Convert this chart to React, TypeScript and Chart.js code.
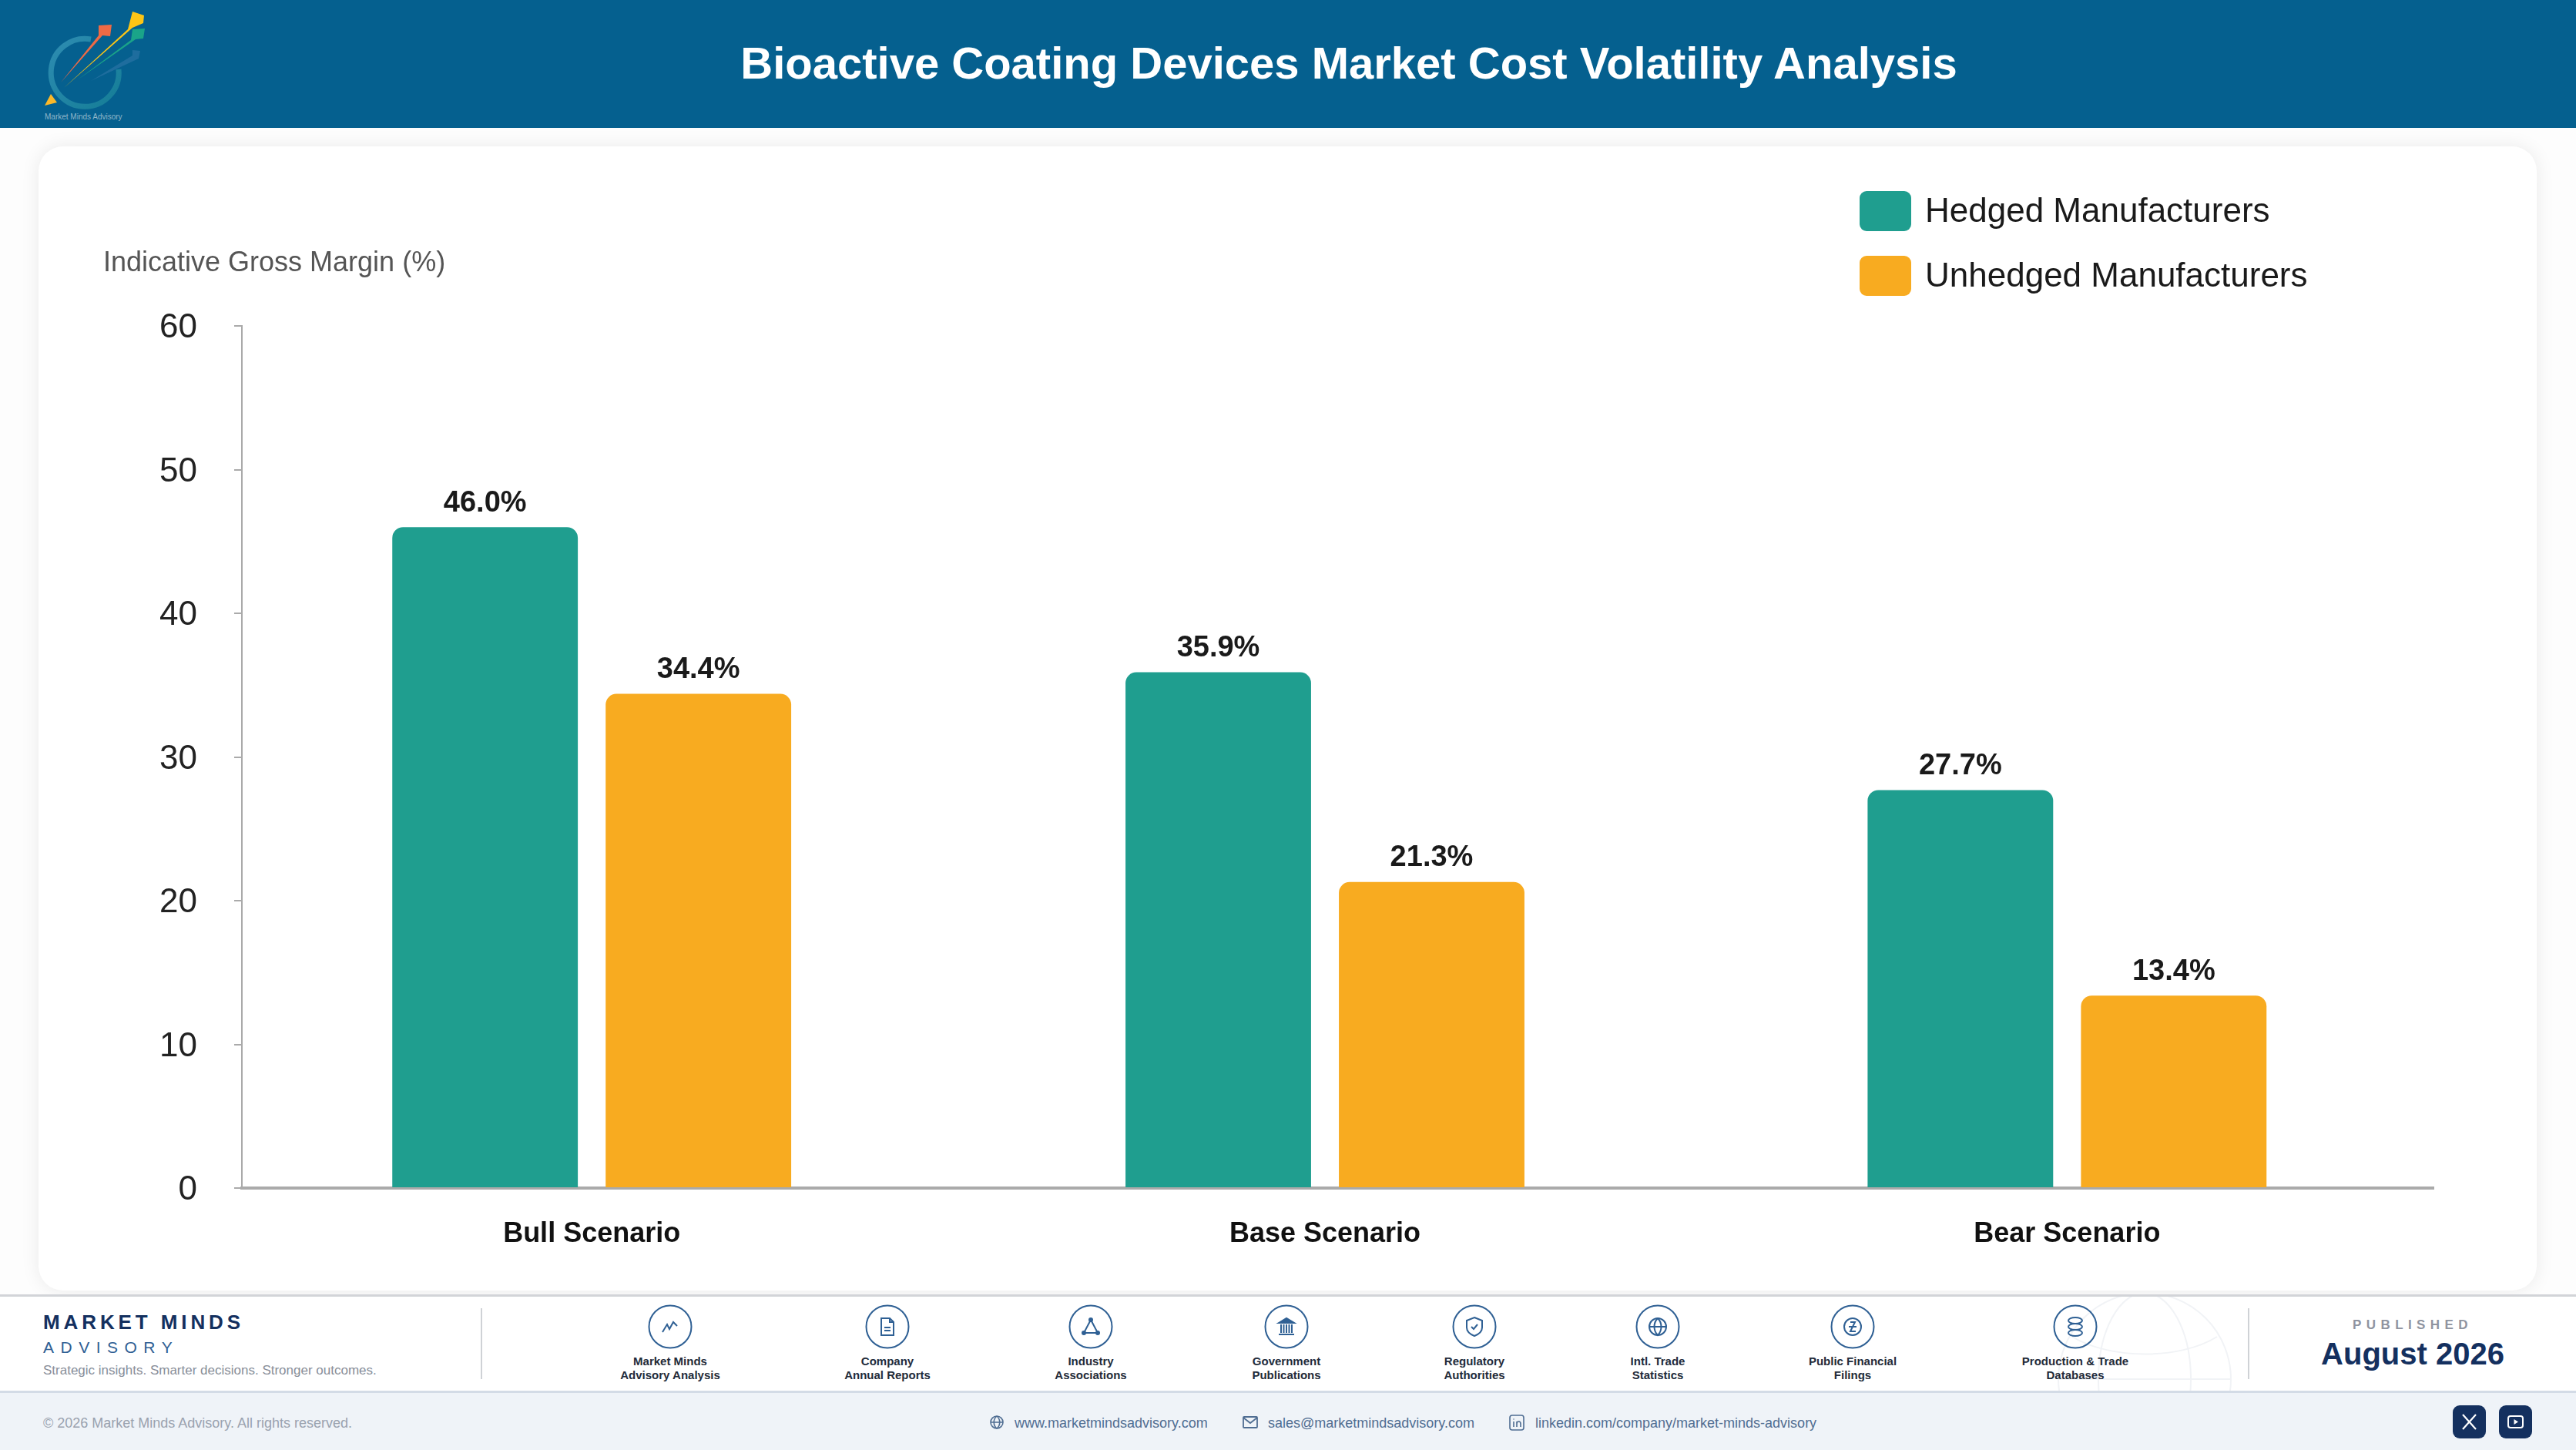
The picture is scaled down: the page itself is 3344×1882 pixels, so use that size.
import React, { useEffect, useRef } from 'react';
import { Chart, CategoryScale, registerables } from 'chart.js';

const scenarios = ['Bull Scenario', 'Base Scenario', 'Bear Scenario'];
const hedged = [46.0, 35.9, 27.7];
const unhedged = [34.4, 21.3, 13.4];
const yMax = 60;
const yStep = 10;

const sources = [
  ['Market Minds', 'Advisory Analysis'],
  ['Company', 'Annual Reports'],
  ['Industry', 'Associations'],
  ['Government', 'Publications'],
  ['Regulatory', 'Authorities'],
  ['Intl. Trade', 'Statistics'],
  ['Public Financial', 'Filings'],
  ['Production & Trade', 'Databases'],
];
const sourceCentres = [870, 1152, 1416, 1670, 1914, 2152, 2405, 2694];

const FONT = '"Liberation Sans", Arial, sans-serif';
const NAVY = '#14305f';
const BLUE = '#2f6094';

// the reference spaces its groups slightly unevenly, so the category scale is nudged
const groupNudge = [-20, -16.5, -1.5];

class ScenarioScale extends CategoryScale {
  static id = 'scenario';
  getPixelForValue(value: any) {
    return super.getPixelForValue(value) + (groupNudge[value] || 0);
  }
}

Chart.register(...registerables, ScenarioScale);

const barLabels = {
  id: 'barLabels',
  afterDatasetsDraw(chart: any) {
    const { ctx } = chart;
    ctx.save();
    ctx.font = `bold 38px ${FONT}`;
    ctx.fillStyle = '#1a1a1a';
    ctx.textAlign = 'center';
    ctx.textBaseline = 'middle';
    chart.data.datasets.forEach((ds: any, i: number) => {
      chart.getDatasetMeta(i).data.forEach((bar: any, j: number) => {
        ctx.fillText(`${ds.data[j].toFixed(1)}%`, bar.x, bar.y - 31);
      });
    });
    ctx.restore();
  },
};

// stacked legend in the card's top right corner
const cornerLegend = {
  id: 'cornerLegend',
  afterDraw(chart: any) {
    const { ctx } = chart;
    ctx.save();
    ctx.font = `44px ${FONT}`;
    ctx.textBaseline = 'middle';
    chart.data.datasets.forEach((ds: any, i: number) => {
      const top = 58 + i * 84;
      ctx.fillStyle = ds.backgroundColor;
      ctx.beginPath();
      ctx.roundRect(2364, top, 67, 52, 9);
      ctx.fill();
      ctx.fillStyle = '#1a1a1a';
      ctx.fillText(ds.label, 2449, top + 28);
    });
    ctx.restore();
  },
};

const BarChart: React.FC = () => {
  const ref = useRef<HTMLCanvasElement | null>(null);

  useEffect(() => {
    if (!ref.current) return;
    const corners = { topLeft: 14, topRight: 14, bottomLeft: 0, bottomRight: 0 };
    const chart = new Chart(ref.current, {
      type: 'bar',
      data: {
        labels: scenarios,
        datasets: [
          { label: 'Hedged Manufacturers', data: hedged, backgroundColor: '#1f9e8f', borderRadius: corners },
          { label: 'Unhedged Manufacturers', data: unhedged, backgroundColor: '#f8ab20', borderRadius: corners },
        ],
      },
      options: {
        animation: false,
        responsive: true,
        maintainAspectRatio: false,
        events: [],
        layout: { padding: { left: 84, right: 134, top: 0, bottom: 0 } },
        datasets: { bar: { categoryPercentage: 0.582, barPercentage: 0.8696 } },
        plugins: {
          tooltip: { enabled: false },
          legend: { display: false },
          title: {
            display: true,
            text: 'Indicative Gross Margin (%)',
            align: 'start',
            color: '#555555',
            font: { family: FONT, size: 36, weight: 'normal' },
            padding: { top: 130, bottom: 60 },
          },
        },
        scales: {
          x: {
            type: 'scenario' as any,
            afterFit: (s: any) => { s.height = 133; },
            border: { color: '#aaaaaa', width: 4 },
            grid: { display: false },
            ticks: {
              color: '#111111',
              padding: 30,
              maxRotation: 0,
              font: { family: FONT, size: 36, weight: 'bold' },
            },
          },
          y: {
            min: 0,
            max: yMax,
            afterFit: (s: any) => { s.width = 180; },
            border: { color: '#aaaaaa', width: 2 },
            grid: { drawOnChartArea: false, color: '#aaaaaa', lineWidth: 2, tickLength: 10 },
            ticks: {
              stepSize: yStep,
              color: '#222222',
              padding: 48,
              labelOffset: 3,
              font: { family: FONT, size: 44 },
            },
          },
        },
      },
      plugins: [barLabels, cornerLegend],
    });
    return () => chart.destroy();
  }, []);

  return <canvas ref={ref} />;
};

const box = (left: number, top: number, width: number, height: number): React.CSSProperties => ({
  position: 'absolute', left, top, width, height,
});

const Logo = () => (
  <svg style={box(50, 8, 150, 150)} viewBox="50 8 150 150">
    <defs>
      <linearGradient id="ring" x1="0" y1="0" x2="1" y2="1">
        <stop offset="0" stopColor="#3f9fc0" />
        <stop offset="1" stopColor="#1c8a9a" />
      </linearGradient>
    </defs>
    <path d="M118 51 A44 44 0 1 0 154 90" fill="none" stroke="url(#ring)" strokeWidth="7" opacity="0.7" />
    <polygon points="58,137 66,122 74,133" fill="#fbb829" />
    <polygon points="79,107 128,46 128,33 145,32 143,47 133,46" fill="#ee6a45" />
    <polygon points="83,114 166,38 172,15 187,20 186,30 172,36" fill="#fcc516" />
    <polygon points="100,104 170,52 172,38 188,37 186,50 176,51" fill="#1aa489" />
    <polygon points="118,105 172,72 172,65 182,66 180,76" fill="#2a73a4" opacity="0.7" />
    <text x="58" y="155" fontSize="10" fontFamily={FONT} fill="#8fb6c9">Market Minds Advisory</text>
  </svg>
);

const icons: React.ReactNode[] = [
  <path d="M-10 7 L-4 -3 L-1 3 L4 -6 L9 -1" />,
  <g><path d="M-8 -11 H3 L8 -6 V11 H-8 Z M3 -11 V-6 H8" /><path d="M-4 1 H4 M-4 5 H4" /></g>,
  <g><path d="M0 -9 L-9 8 H9 Z" /><circle cx="0" cy="-9" r="2" fill={BLUE} /><circle cx="-9" cy="8" r="2" fill={BLUE} /><circle cx="9" cy="8" r="2" fill={BLUE} /></g>,
  <g><path d="M-10 -5 L0 -11 L10 -5 Z" fill={BLUE} /><path d="M-7 -3 V8 M-3.5 -3 V8 M0 -3 V8 M3.5 -3 V8 M7 -3 V8 M-10 10 H10" /></g>,
  <g><path d="M0 -12 L10 -8 V1 C10 6 5 10 0 12 C-5 10 -10 6 -10 1 V-8 Z" /><path d="M-4 0 L-1 3 L4 -3" /></g>,
  <g><circle r="11" /><path d="M-11 0 H11 M0 -11 C-6 -5 -6 5 0 11 C6 5 6 -5 0 -11" /></g>,
  <g><circle r="11" /><path d="M-3 -6 H3 L-3 6 H4 M-5 0 H5" /></g>,
  <g><ellipse cx="0" cy="-8" rx="9" ry="4" /><ellipse cx="0" cy="0" rx="9" ry="4" /><ellipse cx="0" cy="8" rx="9" ry="4" /></g>,
];

const SourceItem: React.FC<{ lines: string[]; centre: number; icon: React.ReactNode }> = ({ lines, centre, icon }) => (
  <div>
    <svg style={box(centre - 29, 1693, 58, 58)} viewBox="-29 -29 58 58" fill="none" stroke={BLUE} strokeWidth="2">
      <circle r="27.5" />
      {icon}
    </svg>
    <div style={{ ...box(centre - 110, 1758, 220, 36), textAlign: 'center', fontSize: 15, lineHeight: '18px', fontWeight: 700, color: '#222b3a' }}>
      {lines.map((l) => <div key={l}>{l}</div>)}
    </div>
  </div>
);

const text = (left: number, centreY: number, size: number, color: string, extra: React.CSSProperties = {}): React.CSSProperties => ({
  position: 'absolute', left, top: centreY - size, lineHeight: `${size * 2}px`, fontSize: size, color, whiteSpace: 'nowrap', ...extra,
});

const App: React.FC = () => {
  useEffect(() => {
    document.body.style.margin = '0';
  }, []);

  return (
    <div style={{ position: 'relative', width: 3344, height: 1882, overflow: 'hidden', background: '#fdfdfd', fontFamily: FONT }}>
      <div style={{ ...box(0, 0, 3344, 166), background: '#05608f' }} />
      <Logo />
      <div style={{ ...box(0, 44, 3502, 76), textAlign: 'center', lineHeight: '76px', fontSize: 58, fontWeight: 700, color: '#fff' }}>
        Bioactive Coating Devices Market Cost Volatility Analysis
      </div>

      <div style={{ ...box(50, 190, 3243, 1485), background: '#fff', borderRadius: 32, boxShadow: '0 0 24px rgba(0,0,0,0.08)' }} />
      <div style={box(50, 190, 3243, 1485)}>
        <BarChart />
      </div>

      <div style={{ ...box(0, 1680, 3344, 126), background: '#fff', borderTop: '3px solid #d2d4d8', boxSizing: 'border-box' }} />
      <svg style={box(2640, 1683, 300, 123)} viewBox="2640 1683 300 123" fill="none" stroke="#f1f3f6" strokeWidth="2">
        <circle cx="2784" cy="1790" r="112" />
        <ellipse cx="2784" cy="1790" rx="60" ry="112" />
        <path d="M2672 1790 H2896 M2690 1735 C2740 1765 2830 1765 2878 1735" />
      </svg>
      <div style={text(56, 1716, 26, NAVY, { fontWeight: 700, letterSpacing: 4.9 })}>MARKET MINDS</div>
      <div style={text(56, 1749, 21, BLUE, { letterSpacing: 8.5 })}>ADVISORY</div>
      <div style={text(56, 1779, 17, '#888e99')}>Strategic insights. Smarter decisions. Stronger outcomes.</div>
      <div style={{ ...box(624, 1698, 2, 92), background: '#cfd2d6' }} />
      {sources.map((lines, i) => (
        <SourceItem key={lines[0]} lines={lines} centre={sourceCentres[i]} icon={icons[i]} />
      ))}
      <div style={{ ...box(2918, 1698, 2, 92), background: '#cfd2d6' }} />
      <div style={text(2932, 1720, 17, '#8f94a0', { width: 400, textAlign: 'center', fontWeight: 700, letterSpacing: 6.4 })}>PUBLISHED</div>
      <div style={text(2932, 1757, 40, NAVY, { width: 400, textAlign: 'center', fontWeight: 700 })}>August 2026</div>

      <div style={{ ...box(0, 1805, 3344, 77), background: '#eff3f8', borderTop: '3px solid #d3dbe6', boxSizing: 'border-box' }} />
      <div style={text(56, 1847, 18, '#9aa2af')}>© 2026 Market Minds Advisory. All rights reserved.</div>
      <svg style={box(1284, 1836, 20, 20)} viewBox="-10 -10 20 20" fill="none" stroke="#4f6d92" strokeWidth="1.6">
        <circle r="8" /><path d="M-8 0 H8 M0 -8 C-5 -4 -5 4 0 8 C5 4 5 -4 0 -8" />
      </svg>
      <div style={text(1317, 1847, 18, '#4f6d92')}>www.marketmindsadvisory.com</div>
      <svg style={box(1613, 1836, 20, 20)} viewBox="0 0 20 20" fill="none" stroke="#4f6d92" strokeWidth="1.8">
        <rect x="1" y="3" width="18" height="14" rx="1" /><path d="M1 4 L10 11 L19 4" />
      </svg>
      <div style={text(1646, 1847, 18, '#4f6d92')}>sales@marketmindsadvisory.com</div>
      <svg style={box(1959, 1836, 20, 21)} viewBox="0 0 20 21" fill="none" stroke="#4f6d92" strokeWidth="1.6">
        <rect x="1" y="1" width="18" height="19" rx="3" /><path d="M6 9 V16 M6 5.5 V6.5 M10 16 V9 M10 12 C10 8 15 8 15 12 V16" />
      </svg>
      <div style={text(1993, 1847, 18, '#4f6d92')}>linkedin.com/company/market-minds-advisory</div>
      <svg style={box(3184, 1824, 43, 43)} viewBox="0 0 43 43">
        <rect width="43" height="43" rx="9" fill={NAVY} />
        <path d="M13 12 L30 31 M30 12 L13 31" stroke="#fff" strokeWidth="2.2" />
      </svg>
      <svg style={box(3244, 1824, 43, 43)} viewBox="0 0 43 43">
        <rect width="43" height="43" rx="9" fill={NAVY} />
        <rect x="12" y="14" width="19" height="15" rx="3" fill="none" stroke="#fff" strokeWidth="2" />
        <path d="M19.5 18 L25 21.5 L19.5 25 Z" fill="#fff" />
      </svg>
    </div>
  );
};

export default App;
